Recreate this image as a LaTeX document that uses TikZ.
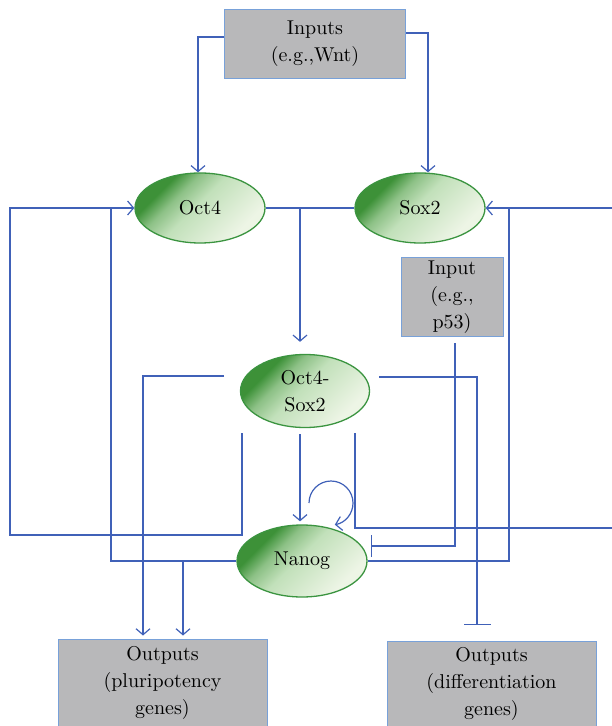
\documentclass[tikz,border=0pt]{standalone}
\usepackage{tikz}
\usetikzlibrary{shapes.geometric, arrows.meta}
\definecolor{color1}{rgb}{0.25, 0.38, 0.72}
\definecolor{color2}{rgb}{0.72, 0.72, 0.73}
\definecolor{color3}{rgb}{0.47, 0.63, 0.85}
\definecolor{color4}{rgb}{0.24, 0.57, 0.22}
\definecolor{color5}{rgb}{0.76, 0.88, 0.73}
\definecolor{color6}{rgb}{0.93, 0.96, 0.90}
\definecolor{color7}{rgb}{0.23, 0.58, 0.25}
\pgfdeclareverticalshading{genefill}{100bp}{color(0bp)=(color6); color(28bp)=(color6); color(52bp)=(color5); color(62bp)=(color5!60!color4); color(70bp)=(color4); color(100bp)=(color4)}

\begin{document}
\begin{tikzpicture}[x = 0.5pt, y = -0.5pt,
  every node/.style = {font = \fontsize{10}{13.5}\selectfont, align = center, inner sep = 0pt},
  gene/.style = {ellipse, draw = color7, line width = 0.65pt, shade, shading = genefill, shading angle = 45, minimum width = 65pt, minimum height = 35pt},
  inbox/.style = {draw = color3, fill = color2, line width = 0.5pt},
  link/.style = {color1, line width = 0.6pt},
  act/.style = {link, -{Straight Barb[length = 3pt, width = 7pt]}},
  inh/.style = {link, -{Bar[width = 11pt]}}]

\useasboundingbox (0, 0) rectangle (611, 726);

\node [inbox, minimum width = 90.5pt, minimum height = 34.5pt] (inputs) at (315, 44) {Inputs\\(e.g.,Wnt)};
\node [gene] (oct4) at (200, 208) {Oct4};
\node [gene] (sox2) at (420, 208) {Sox2};
\node [inbox, minimum width = 51pt, minimum height = 39.5pt] (p53) at (452, 297.5) {Input\\(e.g.,\\p53)};
\node [gene, minimum width = 64.5pt, minimum height = 36.5pt] (oct4sox2) at (305, 391) {Oct4-\\Sox2};
\node [gene, minimum height = 36pt] (nanog) at (302, 561) {Nanog};
\node [inbox, minimum width = 104.5pt, minimum height = 44pt] (outpluri) at (162.5, 683) {Outputs\\(pluripotency\\genes)};
\node [inbox, minimum width = 104.5pt, minimum height = 43pt] (outdiff) at (491.5, 684) {Outputs\\(differentiation\\genes)};

\coordinate (split) at (300, 208);
\coordinate (osUL) at (224, 376);
\coordinate (osUR) at (379, 377);
\coordinate (osL) at (242, 433);
\coordinate (osM) at (300, 434);
\coordinate (osR) at (355, 433);
\coordinate (nbranch) at (183, 561);
\coordinate (p53end) at (455, 343);
\coordinate (p53bar) at (371, 546);
\coordinate (diffbar) at (477, 625);
\coordinate (loopstart) at (309, 503);

\draw [act] ([yshift = 3.5pt]inputs.west) -| ([xshift = -1pt]oct4.north);
\draw [act] ([yshift = 5.5pt]inputs.east) -| ([xshift = 4pt]sox2.north);
\draw [link] (oct4.east) -- (sox2.west);
\draw [act, shorten >= 6pt] (split) -- (split |- oct4sox2.north);
\draw [act] (osL) |- (10, 535) |- (oct4.west);
\draw [link] (nanog.west) -| (111, 208);
\draw [act] (osR) |- (614, 528) |- (sox2.east);
\draw [link] (nanog.east) -| (509, 208);
\draw [act, shorten >= 1.5pt] (osUL) -| ([xshift = -9.75pt]outpluri.north);
\draw [act, shorten >= 1.5pt] (nbranch) -- (nbranch |- outpluri.north);
\draw [act, shorten >= 1.5pt] (osM) -- (osM |- nanog.north);
\draw [inh] (p53end) |- (p53bar);
\draw [inh, -{Bar[width = 13.5pt]}] (osUR) -| (diffbar);
\draw [act] (loopstart) arc [start angle = 180, end angle = -80, radius = 11pt];

\end{tikzpicture}
\end{document}
